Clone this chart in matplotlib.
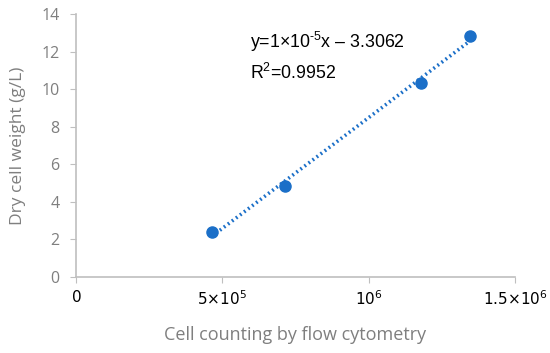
import matplotlib
matplotlib.use("Agg")
import matplotlib.pyplot as plt
import numpy as np

# data
cell_counts = [464000, 713000, 1180000, 1345000]
dry_weight = [2.40, 4.84, 10.33, 12.85]

x_ticks = [0, 5e5, 1e6, 1.5e6]
x_tick_labels = [r"$0$", r"$5{\times}10^5$", r"$10^6$", r"$1.5{\times}10^6$"]
y_ticks = [0, 2, 4, 6, 8, 10, 12, 14]

equation_text = r"y=1$\times$10$^{\text{-5}}$x – 3.3062"
r2_text = r"R$^2$=0.9952"

BLUE = "#1b6fc8"
GRAY = "#7f7f7f"
AXIS_GRAY = "#bfbfbf"

plt.rcParams["mathtext.fontset"] = "custom"
plt.rcParams["mathtext.rm"] = "Liberation Sans"
plt.rcParams["mathtext.it"] = "Liberation Sans"
plt.rcParams["mathtext.default"] = "regular"


def main():
    fig = plt.figure(figsize=(5.5, 3.53), dpi=100)
    ax = fig.add_axes([76 / 550, 76 / 353, 439 / 550, 263 / 353])

    # linear trendline over the data range
    slope, intercept = np.polyfit(cell_counts, dry_weight, 1)
    xs = np.array([min(cell_counts), max(cell_counts)])
    ax.plot(xs, slope * xs + intercept, linestyle=(0, (0.5, 0.9)),
            color=BLUE, linewidth=2.6, zorder=2)
    ax.plot(cell_counts, dry_weight, "o", color=BLUE, markersize=8, zorder=3)

    ax.set_xlim(0, 1.5e6)
    ax.set_ylim(0, 14)
    ax.set_xticks(x_ticks)
    ax.set_xticklabels(x_tick_labels, fontsize=11, color="black")
    ax.set_yticks(y_ticks)
    ax.set_yticklabels([str(v) for v in y_ticks], fontsize=11.5,
                       color=GRAY, family="Open Sans")

    for side in ["top", "right"]:
        ax.spines[side].set_visible(False)
    for side in ["left", "bottom"]:
        ax.spines[side].set_color(AXIS_GRAY)
        ax.spines[side].set_linewidth(1.2)
    ax.tick_params(axis="x", direction="out", length=4, color=AXIS_GRAY, pad=5)
    ax.tick_params(axis="y", direction="out", length=4, color=AXIS_GRAY, pad=8)

    ax.set_xlabel("Cell counting by flow cytometry", fontsize=13, color=GRAY,
                  family="Open Sans", labelpad=13)
    ax.set_ylabel("Dry cell weight (g/L)", fontsize=12.5, color=GRAY,
                  family="Open Sans", labelpad=11)

    ax.text(250 / 550, 1 - 42 / 353, equation_text, transform=fig.transFigure,
            fontsize=12.8, family="Liberation Sans", va="center", ha="left")
    ax.text(250 / 550, 1 - 73 / 353, r2_text, transform=fig.transFigure,
            fontsize=12.8, family="Liberation Sans", va="center", ha="left")

    fig.savefig("out.png", dpi=100)
    plt.close(fig)


if __name__ == "__main__":
    main()
